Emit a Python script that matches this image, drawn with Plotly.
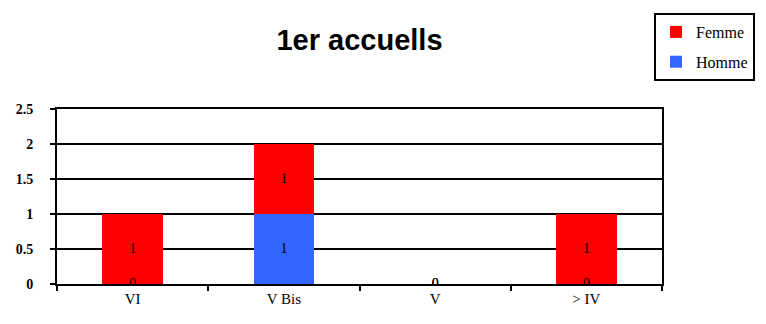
import plotly.graph_objects as go

# data
categories = ['VI', 'V Bis', 'V', '> IV']
femme = [1, 1, 0, 1]
homme = [0, 1, 0, 0]

red = '#FF0000'
blue = '#3366FF'

fig = go.Figure()

# stacked bars (Homme at the bottom, Femme on top)
fig.add_trace(go.Bar(x=categories, y=homme, name='Homme', legendgroup='h', legendrank=2,
                     marker=dict(color=blue, line=dict(width=0)), width=0.4))
fig.add_trace(go.Bar(x=categories, y=femme, name='Femme', legendgroup='f', legendrank=1,
                     marker=dict(color=red, line=dict(width=0)), width=0.4))

# value labels at the middle of each segment (zeros sit on the baseline)
homme_mid = [h / 2 for h in homme]
femme_mid = [h + f / 2 for h, f in zip(homme, femme)]
lbl_font = dict(family='Liberation Serif', size=14, color='black')
fig.add_trace(go.Scatter(x=categories, y=homme_mid, mode='text', text=[str(v) for v in homme],
                         textfont=lbl_font, showlegend=False, hoverinfo='skip'))
fig.add_trace(go.Scatter(x=categories, y=femme_mid, mode='text', text=[str(v) for v in femme],
                         textfont=lbl_font, showlegend=False, hoverinfo='skip'))

# the page adds an 8px body offset, so margins are shifted to compensate
fig.update_layout(
    width=766, height=324,
    barmode='stack',
    plot_bgcolor='white', paper_bgcolor='white',
    margin=dict(l=49, r=112, t=101, b=48, autoexpand=False),
    title=dict(text='<b>1er accuells</b>', x=0.5, xref='paper', xanchor='center',
               y=1 - 32 / 324, yanchor='middle',
               font=dict(family='Liberation Sans', size=29, color='black')),
    legend=dict(xref='container', yref='container', x=646 / 766, xanchor='left',
                y=1 - 5 / 324, yanchor='top',
                traceorder='grouped', tracegroupgap=6,
                bordercolor='black', borderwidth=2, bgcolor='white',
                font=dict(family='Liberation Serif', size=16, color='black'),
                itemwidth=30),
    showlegend=True,
)

fig.update_xaxes(showline=True, linecolor='black', linewidth=2, mirror=True,
                 ticks='outside', tickson='boundaries', ticklen=5, tickcolor='black', tickwidth=2,
                 tickfont=dict(family='Liberation Serif', size=15, color='black'),
                 showgrid=False)
fig.update_yaxes(range=[0, 2.5], dtick=0.5, showline=True, linecolor='black', linewidth=2, mirror=True,
                 showgrid=True, gridcolor='black', gridwidth=2, zeroline=False,
                 ticks='outside', ticklen=5, tickcolor='black', tickwidth=2, ticklabelstandoff=14,
                 tickprefix='<b>', ticksuffix='</b>',
                 tickfont=dict(family='Liberation Serif', size=14, color='black'))

fig.write_html('out.html')
